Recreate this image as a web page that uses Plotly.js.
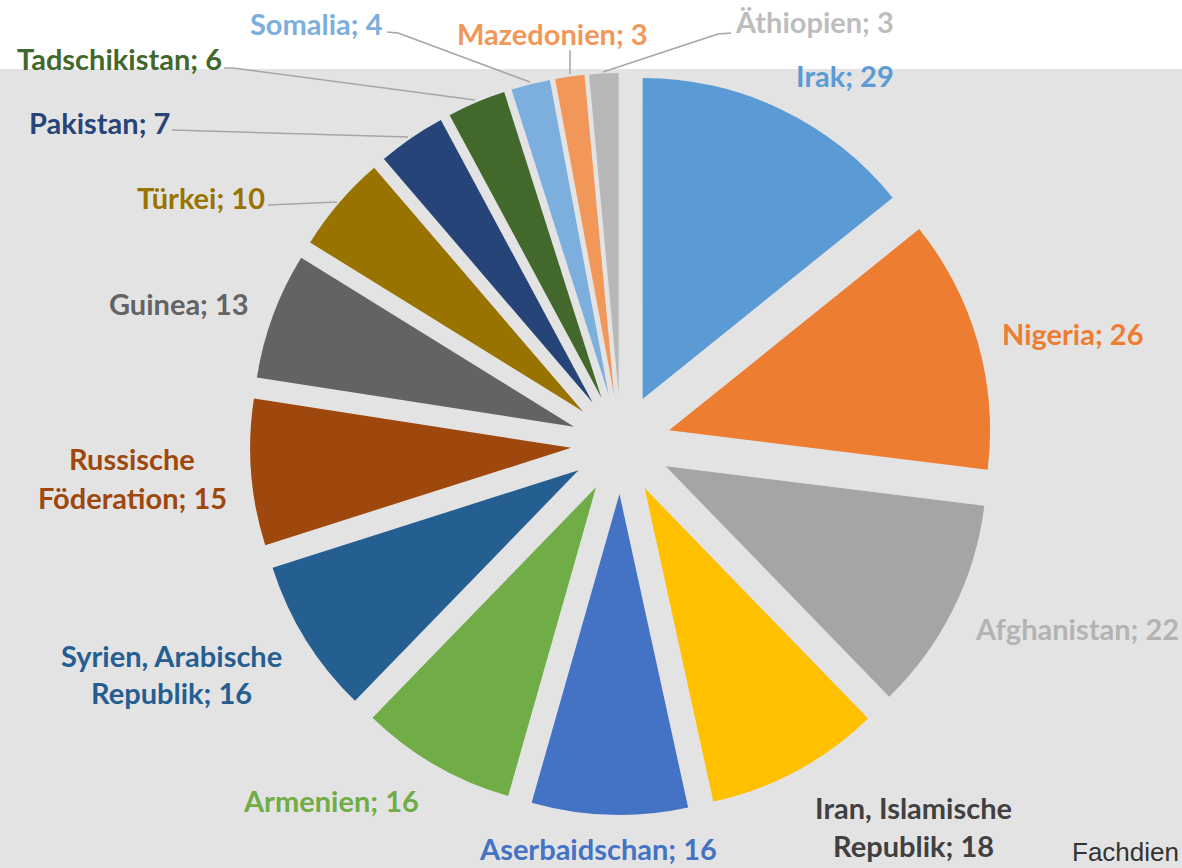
<!DOCTYPE html>
<html>
<head>
<meta charset="utf-8">
<script src="https://cdn.plot.ly/plotly-3.0.1.min.js"></script>
<style>
  html, body { margin: 0; padding: 0; background: #e4e3e4; }
  #chart { width: 1182px; height: 868px; }
</style>
</head>
<body>
<div id="chart"></div>
<script>
// ---------- data ----------
const countries = [
  'Irak', 'Nigeria', 'Afghanistan', 'Iran, Islamische<br>Republik', 'Aserbaidschan',
  'Armenien', 'Syrien, Arabische<br>Republik', 'Russische<br>Föderation', 'Guinea', 'Türkei',
  'Pakistan', 'Tadschikistan', 'Somalia', 'Mazedonien', 'Äthiopien'
];
const counts = [29, 26, 22, 18, 16, 16, 16, 15, 13, 10, 7, 6, 4, 3, 3];
const sourceText = 'Fachdien';

// ---------- styles ----------
const sliceColors = [
  '#5b9bd5', '#ed7d31', '#a5a5a5', '#ffc000', '#4472c4',
  '#70ad47', '#255e91', '#9e480e', '#636363', '#997300',
  '#264478', '#43682b', '#7cafdd', '#f1975a', '#b7b7b7'
];
const labelColors = [
  '#5b9bd5', '#ed7d31', '#b3b3b3', '#404040', '#4472c4',
  '#70ad47', '#255e91', '#9e480e', '#636363', '#997300',
  '#264478', '#43682b', '#7cafdd', '#f1975a', '#bdbdbd'
];
// label placement in page pixels: [centre x, centre y of each line]
const labelPlace = [
  [845, [76]], [1072, [333]], [1077, [628]], [914, [807, 845]], [598, [848]],
  [331, [800]], [171, [655, 692]], [132, [458, 497]], [179, [303]], [201, [197]],
  [99, [122]], [119, [59]], [316, [23]], [552, [33]], [814, [22]]
];
// leader lines (page pixels)
const leaders = [
  [[268, 205], [337, 202]],
  [[172, 130], [408, 137]],
  [[224, 68], [233, 68], [475, 100]],
  [[387, 32], [398, 33], [530, 82]],
  [[570, 50], [570, 74]],
  [[731, 33], [718, 34], [603, 72]]
];

const W = 1182, H = 868;
const px = x => x / W;
const py = y => 1 - y / H;

// pie geometry (page pixels)
const cx = 621, cy = 444, half = 371;

const annotations = [];
countries.forEach((name, i) => {
  const lines = name.split('<br>');
  lines[lines.length - 1] += '; ' + counts[i];
  const [x, ys] = labelPlace[i];
  lines.forEach((t, k) => {
    annotations.push({
      text: t, xref: 'paper', yref: 'paper',
      x: px(x), y: py(ys[k]), xanchor: 'center', yanchor: 'middle',
      showarrow: false,
      font: { family: 'Lato, Carlito, sans-serif', size: 29, weight: 700, color: labelColors[i] }
    });
  });
});
annotations.push({
  text: sourceText, xref: 'paper', yref: 'paper',
  x: px(1070), y: py(852), xanchor: 'left', yanchor: 'middle', showarrow: false,
  font: { family: 'Liberation Sans, Arial, sans-serif', size: 26, color: '#333333' }
});

const shapes = [{
  type: 'rect', xref: 'paper', yref: 'paper', layer: 'below',
  x0: 0, x1: 1, y0: py(69), y1: 1,
  fillcolor: '#ffffff', line: { width: 0 }
}];
leaders.forEach(pts => {
  for (let k = 0; k < pts.length - 1; k++) {
    shapes.push({
      type: 'line', xref: 'paper', yref: 'paper', layer: 'above',
      x0: px(pts[k][0]), y0: py(pts[k][1]), x1: px(pts[k + 1][0]), y1: py(pts[k + 1][1]),
      line: { color: '#a6a6a6', width: 1.5 }
    });
  }
});

const trace = {
  type: 'pie',
  labels: countries,
  values: counts,
  sort: false,
  direction: 'clockwise',
  rotation: 0,
  pull: 0.1558,
  textinfo: 'none',
  hoverinfo: 'label+value',
  marker: { colors: sliceColors, line: { width: 0 } },
  domain: {
    x: [px(cx - half), px(cx + half)],
    y: [py(cy + half), py(cy - half)]
  },
  showlegend: false
};

const layout = {
  width: W, height: H,
  margin: { l: 0, r: 0, t: 0, b: 0 },
  paper_bgcolor: '#e4e3e4',
  plot_bgcolor: '#e4e3e4',
  showlegend: false,
  shapes: shapes,
  annotations: annotations
};

Plotly.newPlot('chart', [trace], layout, { displayModeBar: false, staticPlot: true });
</script>
</body>
</html>
